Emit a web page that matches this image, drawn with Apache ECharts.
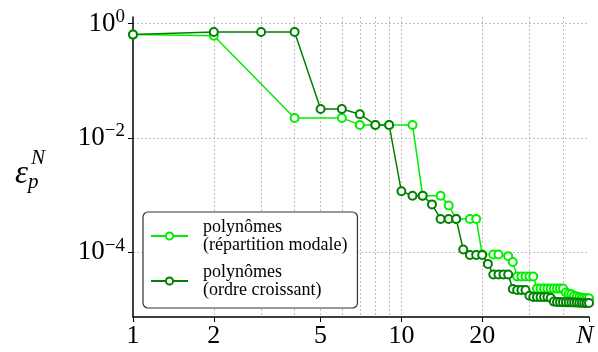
<!DOCTYPE html>
<html><head><meta charset="utf-8">
<script src="https://cdn.jsdelivr.net/npm/echarts@6/dist/echarts.min.js"></script>
<style>html,body{margin:0;padding:0;background:#fff}#c{width:598px;height:352px}</style>
</head><body><div id="c"></div>
<script>
// Series names
const nameModal = 'polynômes\n(répartition modale)';
const nameCroissant = 'polynômes\n(ordre croissant)';

// Light green series: N and error
const modalN = [1, 2, 4, 6, 7, 8, 9, 11, 12, 14, 15, 16, 18, 19, 20, 22, 23, 25, 26, 27, 28, 29, 30, 31,
  32, 33, 34, 35, 36, 37, 38, 39, 40, 41, 42, 43, 44, 45, 46, 47, 48, 49, 50];
const modalErr = [0.64, 0.61, 0.0224, 0.0224, 0.0169, 0.0169, 0.0169, 0.0169, 9.8e-4, 9.8e-4, 6.6e-4, 3.84e-4,
  3.84e-4, 3.84e-4, 9.2e-5, 9.2e-5, 9.2e-5, 8.6e-5, 6.8e-5, 3.8e-5, 3.8e-5, 3.8e-5, 3.8e-5, 3.8e-5,
  2.33e-5, 2.33e-5, 2.33e-5, 2.33e-5, 2.33e-5, 2.33e-5, 2.33e-5, 2.33e-5, 2.33e-5, 2.0e-5, 1.9e-5, 1.85e-5,
  1.75e-5, 1.7e-5, 1.65e-5, 1.62e-5, 1.6e-5, 1.58e-5, 1.58e-5];

// Dark green series: N and error
const croissantN = [1, 2, 3, 4, 5, 6, 7, 8, 9, 10, 11, 12, 13, 14, 15, 16, 17, 18, 19, 20, 21, 22, 23, 24, 25,
  26, 27, 28, 29, 30, 31, 32, 33, 34, 35, 36, 37, 38, 39, 40, 41, 42, 43, 44, 45, 46, 47, 48, 49, 50];
const croissantErr = [0.64, 0.71, 0.71, 0.71, 0.032, 0.032, 0.026, 0.0169, 0.0169, 1.17e-3, 9.8e-4, 9.8e-4,
  6.9e-4, 3.84e-4, 3.84e-4, 3.84e-4, 1.12e-4, 9.0e-5, 9.0e-5, 9.0e-5, 6.3e-5, 4.1e-5, 4.1e-5, 4.1e-5, 4.1e-5,
  2.3e-5, 2.2e-5, 2.2e-5, 2.2e-5, 1.75e-5, 1.66e-5, 1.66e-5, 1.66e-5, 1.66e-5, 1.66e-5, 1.6e-5, 1.38e-5,
  1.36e-5, 1.36e-5, 1.35e-5, 1.34e-5, 1.34e-5, 1.34e-5, 1.33e-5, 1.33e-5, 1.32e-5, 1.32e-5, 1.31e-5, 1.31e-5, 1.31e-5];

// Axis ticks
const xTickValues = [1, 2, 5, 10, 20, 50];
const xGridValues = [2, 3, 4, 5, 6, 7, 8, 9, 10, 20, 30, 40];
const yTickValues = [1e-4, 1e-2, 1];
const xMin = 1, xMax = 50, yMin = 7.43e-6, yMax = 1.30;

const serif = 'Liberation Serif';
const chart = echarts.init(document.getElementById('c'), null, {renderer: 'canvas'});
const pairs = (xs, ys) => xs.map((x, i) => [x, ys[i]]);
const gridLine = {show: true, lineStyle: {color: '#b0b0b0', type: [2, 2], width: 0.8}};

chart.setOption({
  animation: false,
  backgroundColor: '#fff',
  grid: {left: 133, right: 9, top: 17, bottom: 35, containLabel: false},
  xAxis: [{
    type: 'log', logBase: 10, min: xMin, max: xMax, position: 'bottom',
    axisLine: {show: true, lineStyle: {color: '#000', width: 1.5}},
    axisTick: {show: true, inside: false, length: 5, customValues: xTickValues, lineStyle: {color: '#000', width: 1}},
    axisLabel: {
      customValues: xTickValues, margin: 6, color: '#000', fontFamily: serif, fontSize: 26,
      formatter: v => v >= 49 ? '{n|N}' : String(Math.round(v)),
      rich: {n: {fontFamily: serif, fontSize: 26, fontStyle: 'italic', color: '#000', padding: [0, 8, 0, 0]}}
    },
    splitLine: {show: false}
  }, {
    type: 'log', logBase: 10, min: xMin, max: xMax, position: 'bottom',
    axisLine: {show: false}, axisTick: {show: false, customValues: xGridValues},
    axisLabel: {show: false, customValues: xGridValues},
    splitLine: gridLine
  }],
  yAxis: {
    type: 'log', logBase: 10, min: yMin, max: yMax,
    axisLine: {show: true, lineStyle: {color: '#000', width: 1.5}},
    axisTick: {show: true, inside: false, length: 5, customValues: yTickValues, lineStyle: {color: '#000', width: 1}},
    axisLabel: {
      customValues: yTickValues, margin: 8, color: '#000', fontFamily: serif, fontSize: 26,
      formatter: v => '{b|10}{s|' + String(Math.round(Math.log10(v))).replace('-', '\u2212') + '}',
      rich: {
        b: {fontFamily: serif, fontSize: 27, color: '#000', lineHeight: 32},
        s: {fontFamily: serif, fontSize: 19, color: '#000', verticalAlign: 'top', lineHeight: 32}
      }
    },
    splitLine: gridLine
  },
  legend: {
    orient: 'vertical', left: 143, top: 212,
    backgroundColor: '#fff', borderColor: '#333', borderWidth: 1.2, borderRadius: 5,
    padding: [6, 10, 9, 7], itemGap: 9, itemWidth: 37, itemHeight: 9,
    textStyle: {fontFamily: serif, fontSize: 18, lineHeight: 18, color: '#000', padding: [0, 0, 0, 10]},
    data: [nameModal, nameCroissant]
  },
  graphic: [
    {type: 'text', left: 15, top: 158, style: {text: '\u03b5', font: 'italic 33px Liberation Serif', fill: '#000'}},
    {type: 'text', left: 31, top: 148, style: {text: 'N', font: 'italic 21px Liberation Serif', fill: '#000'}},
    {type: 'text', left: 28, top: 172, style: {text: 'p', font: 'italic 21px Liberation Serif', fill: '#000'}}
  ],
  series: [{
    name: nameModal, type: 'line', xAxisIndex: 0, data: pairs(modalN, modalErr),
    symbol: 'emptyCircle', symbolSize: 8, color: '#00ee00',
    lineStyle: {width: 1.5, color: '#00ee00'}, itemStyle: {color: '#00ee00', borderWidth: 2}
  }, {
    name: nameCroissant, type: 'line', xAxisIndex: 0, data: pairs(croissantN, croissantErr),
    symbol: 'emptyCircle', symbolSize: 8, color: '#008000',
    lineStyle: {width: 1.5, color: '#008000'}, itemStyle: {color: '#008000', borderWidth: 2}
  }]
});
</script></body></html>
